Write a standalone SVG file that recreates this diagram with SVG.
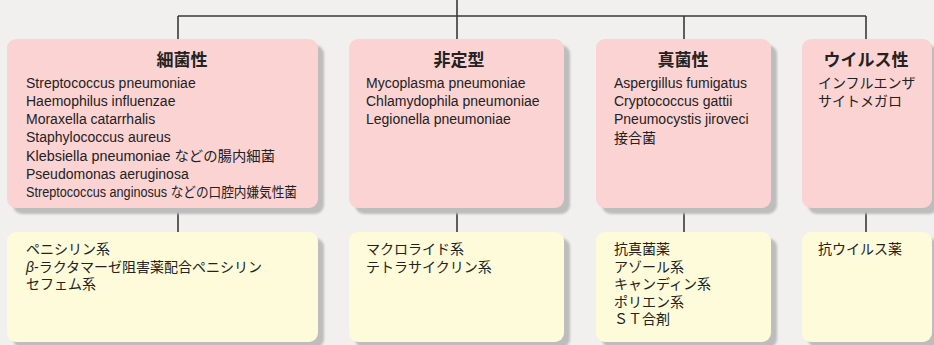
<svg xmlns="http://www.w3.org/2000/svg" width="934" height="345" viewBox="0 0 934 345">
<defs>
<style>
.bg{fill:#f1f0ef}
.sh{fill:#bdbdbd;filter:url(#blur)}
.pink{fill:#fbd3d3}
.yel{fill:#fdfbd9}
.conn{stroke:#3a3a3a;stroke-width:1.6;fill:none}
.t{font-family:"Liberation Sans","Noto Sans CJK JP",sans-serif;font-size:14px;fill:#222}
.j{font-family:"Liberation Sans","Noto Sans CJK JP",sans-serif;font-size:14px;fill:#222}
.h{font-family:"Noto Sans CJK JP",sans-serif;font-size:17px;font-weight:bold;fill:#222;text-anchor:middle}
</style>
<filter id="blur" x="-10%" y="-10%" width="120%" height="120%"><feGaussianBlur stdDeviation="1.2"/></filter>
</defs>
<rect class="bg" x="0" y="0" width="934" height="345"/>
<g id="connectors">
<path class="conn" d="M457 0V16M178 16H866M178 16V39M457 16V39M684 16V39M866 16V39"/>
<path class="conn" d="M178 208V232M457 208V232M684 208V232M866 208V232"/>
</g>
<g id="bacterial">
<rect class="sh" x="13" y="45" width="311" height="169" rx="9"/>
<rect class="pink" x="7" y="39" width="311" height="169" rx="9"/>
<text class="h" x="182" y="66">細菌性</text>
<text class="t" x="26" y="88">Streptococcus pneumoniae</text>
<text class="t" x="26" y="106">Haemophilus influenzae</text>
<text class="t" x="26" y="124">Moraxella catarrhalis</text>
<text class="t" x="26" y="142">Staphylococcus aureus</text>
<text class="t" x="26" y="161" textLength="249" lengthAdjust="spacingAndGlyphs">Klebsiella  pneumoniae  などの腸内細菌</text>
<text class="t" x="26" y="179">Pseudomonas aeruginosa</text>
<text class="t" x="26" y="197" textLength="271" lengthAdjust="spacingAndGlyphs">Streptococcus anginosus などの口腔内嫌気性菌</text>
</g>
<g id="atypical">
<rect class="sh" x="355" y="45" width="215" height="169" rx="9"/>
<rect class="pink" x="349" y="39" width="215" height="169" rx="9"/>
<text class="h" x="459" y="66">非定型</text>
<text class="t" x="366" y="88">Mycoplasma pneumoniae</text>
<text class="t" x="366" y="106">Chlamydophila pneumoniae</text>
<text class="t" x="366" y="124">Legionella pneumoniae</text>
</g>
<g id="fungal">
<rect class="sh" x="602" y="45" width="175" height="169" rx="9"/>
<rect class="pink" x="596" y="39" width="175" height="169" rx="9"/>
<text class="h" x="683" y="66">真菌性</text>
<text class="t" x="614" y="88">Aspergillus fumigatus</text>
<text class="t" x="614" y="106">Cryptococcus gattii</text>
<text class="t" x="614" y="124">Pneumocystis jiroveci</text>
<text class="j" x="614" y="143">接合菌</text>
</g>
<g id="viral">
<rect class="sh" x="808" y="45" width="130" height="169" rx="9"/>
<rect class="pink" x="802" y="39" width="130" height="169" rx="9"/>
<text class="h" x="866" y="66">ウイルス性</text>
<text class="j" x="818" y="88">インフルエンザ</text>
<text class="j" x="818" y="106">サイトメガロ</text>
</g>
<g id="bacterial-drugs">
<rect class="sh" x="13" y="238" width="311" height="110" rx="9"/>
<rect class="yel" x="7" y="232" width="311" height="110" rx="9"/>
<text class="j" x="26" y="254">ペニシリン系</text>
<text class="j" x="26" y="272"><tspan font-style="italic">β</tspan>-ラクタマーゼ阻害薬配合ペニシリン</text>
<text class="j" x="26" y="289">セフェム系</text>
</g>
<g id="atypical-drugs">
<rect class="sh" x="355" y="238" width="215" height="110" rx="9"/>
<rect class="yel" x="349" y="232" width="215" height="110" rx="9"/>
<text class="j" x="366" y="254">マクロライド系</text>
<text class="j" x="366" y="272">テトラサイクリン系</text>
</g>
<g id="fungal-drugs">
<rect class="sh" x="602" y="238" width="175" height="110" rx="9"/>
<rect class="yel" x="596" y="232" width="175" height="110" rx="9"/>
<text class="j" x="614" y="254">抗真菌薬</text>
<text class="j" x="614" y="272">アゾール系</text>
<text class="j" x="614" y="289">キャンディン系</text>
<text class="j" x="614" y="307">ポリエン系</text>
<text class="j" x="614" y="324">ＳＴ合剤</text>
</g>
<g id="viral-drugs">
<rect class="sh" x="808" y="238" width="130" height="110" rx="9"/>
<rect class="yel" x="802" y="232" width="130" height="110" rx="9"/>
<text class="j" x="818" y="254">抗ウイルス薬</text>
</g>
</svg>
